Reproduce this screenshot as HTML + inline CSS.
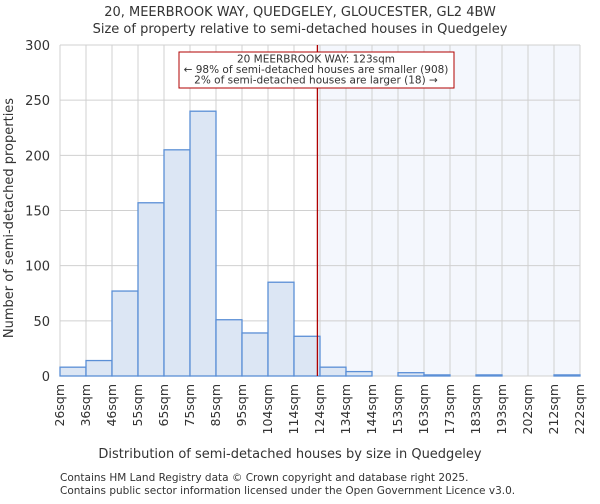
<!DOCTYPE html>
<html><head><meta charset="utf-8"><style>
body{margin:0;background:#fff;font-family:"DejaVu Sans","Liberation Sans",sans-serif}
svg text{font-family:"DejaVu Sans","Liberation Sans",sans-serif;fill:#333}
</style></head><body>
<svg id="c" width="600" height="500">
<text x="300" y="16" text-anchor="middle" font-size="13">20, MEERBROOK WAY, QUEDGELEY, GLOUCESTER, GL2 4BW</text>
<text x="300" y="33" text-anchor="middle" font-size="13">Size of property relative to semi-detached houses in Quedgeley</text>
<g id="plot"></g>
<text x="290" y="458" text-anchor="middle" font-size="13">Distribution of semi-detached houses by size in Quedgeley</text>
<text transform="translate(13,218) rotate(-90)" text-anchor="middle" font-size="13">Number of semi-detached properties</text>
<text x="60" y="481" font-size="10.5">Contains HM Land Registry data © Crown copyright and database right 2025.</text>
<text x="60" y="494" font-size="10.5">Contains public sector information licensed under the Open Government Licence v3.0.</text>
</svg>
<script>
const binLabels=["26sqm","36sqm","46sqm","55sqm","65sqm","75sqm","85sqm","95sqm","104sqm","114sqm","124sqm","134sqm","144sqm","153sqm","163sqm","173sqm","183sqm","193sqm","202sqm","212sqm","222sqm"];
const counts=[8,14,77,157,205,240,51,39,85,36,8,4,0,3,1,0,1,0,0,1];
const yTicks=[0,50,100,150,200,250,300];
const subjectPos=9.9;
const ns="http://www.w3.org/2000/svg";
const L=60,R=580,T=45,B=376,yMax=300;
const bw=(R-L)/counts.length;
const xs=i=>L+i*bw;
const ys=v=>B-(v/yMax)*(B-T);
const g=document.getElementById('plot');
function mk(t,a){const e=document.createElementNS(ns,t);for(const k in a)e.setAttribute(k,a[k]);g.appendChild(e);return e;}
const sx=xs(subjectPos);
let e=mk('rect',{x:sx,y:T,width:R-sx,height:B-T,fill:'#f4f7fd'});


yTicks.forEach(v=>{
 let l=mk('line',{x1:L,x2:R,y1:ys(v),y2:ys(v),stroke:'#d0d0d0'});
 
 
 let t=mk('text',{x:L-10,y:ys(v)+5,'text-anchor':'end','font-size':'13'});t.textContent=v;
 
 
});
binLabels.forEach((s,i)=>{
 let l=mk('line',{x1:xs(i),x2:xs(i),y1:T,y2:B,stroke:'#d0d0d0'});
 
 
 let t=mk('text',{transform:`translate(${xs(i)+4},${B+8}) rotate(-90)`,'text-anchor':'end','font-size':'12.5'});t.textContent=s;
 
 
});
counts.forEach((v,i)=>{
 let r=mk('rect',{x:xs(i),y:ys(v),width:bw,height:B-ys(v),fill:'#dce6f4',stroke:'#5b8fd6','stroke-width':1.3});
 
 
});
e=mk('line',{x1:sx,x2:sx,y1:T,y2:B,stroke:'#b00000','stroke-width':1.3});


e=mk('rect',{x:179,y:52,width:275,height:36,fill:'#fff',stroke:'#b00000'});


["20 MEERBROOK WAY: 123sqm","← 98% of semi-detached houses are smaller (908)","2% of semi-detached houses are larger (18) →"].forEach((s,i)=>{
 let t=mk('text',{x:316,y:62.5+i*10.5,'text-anchor':'middle','font-size':'10.5'});t.textContent=s;
 
 
});
</script>
</body></html>
